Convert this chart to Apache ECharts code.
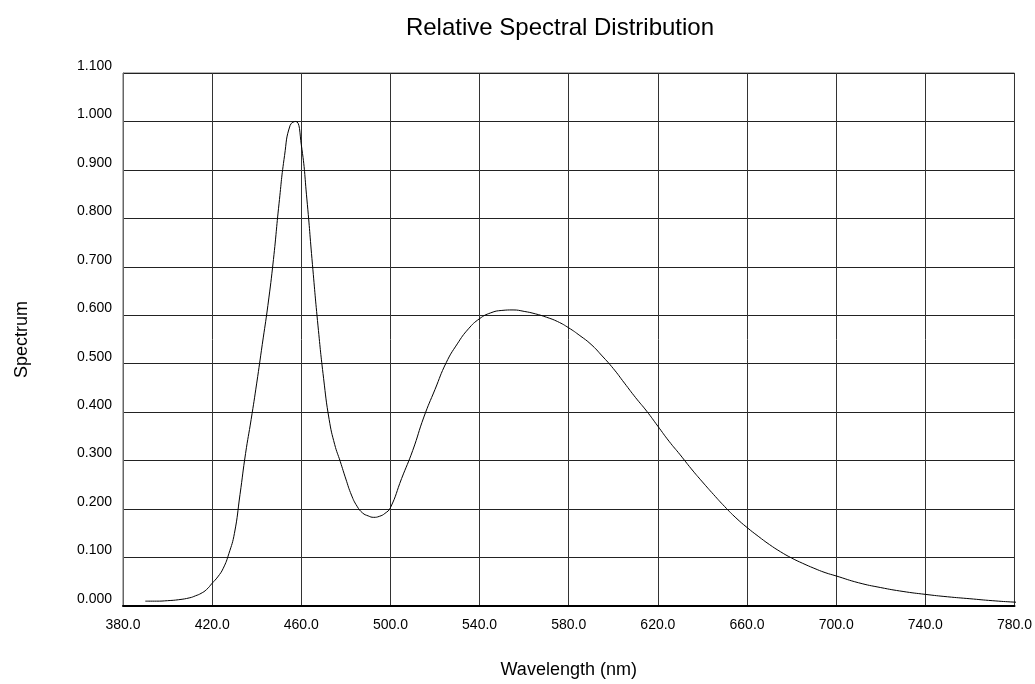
<!DOCTYPE html>
<html><head><meta charset="utf-8">
<script src="https://cdn.jsdelivr.net/npm/echarts@6/dist/echarts.min.js"></script>
<style>html,body{margin:0;padding:0;background:#fff}#c{width:1035px;height:684px}</style>
</head><body><div id="c"></div>
<script>
var wavelengths = [390,395,400,405,410,412.5,415,417.5,420,422.5,425,427.5,430,432.5,435,437.5,440,442.5,445,447.5,450,452.5,455,457.5,460,462.5,465,467.5,470,472.5,475,477.5,480,482.5,485,487.5,490,492.5,495,497.5,500,505,510,515,520,525,530,535,540,545,550,555,560,565,570,575,580,585,590,595,600,605,610,615,620,625,630,635,640,645,650,655,660,665,670,675,680,685,690,695,700,710,720,730,740,750,760,770,780,790];
var spectrum =    [0.010,0.010,0.011,0.013,0.017,0.021,0.026,0.034,0.047,0.060,0.078,0.108,0.150,0.230,0.315,0.385,0.460,0.540,0.620,0.715,0.830,0.930,0.992,1.000,0.952,0.840,0.705,0.578,0.470,0.385,0.333,0.298,0.262,0.229,0.206,0.192,0.186,0.183,0.185,0.191,0.203,0.263,0.321,0.390,0.447,0.502,0.541,0.572,0.593,0.605,0.610,0.611,0.608,0.603,0.596,0.587,0.574,0.558,0.540,0.516,0.490,0.460,0.430,0.402,0.371,0.340,0.312,0.283,0.256,0.230,0.205,0.182,0.162,0.144,0.127,0.112,0.099,0.088,0.078,0.069,0.062,0.048,0.038,0.030,0.024,0.019,0.015,0.011,0.008,0.006];
var titleText = 'Relative Spectral Distribution';
var xName = 'Wavelength (nm)';
var yName = 'Spectrum';

var pts = wavelengths.map(function(w,i){return [w, spectrum[i]];});
var chart = echarts.init(document.getElementById('c'));
var font = 'Liberation Sans, Arial, sans-serif';
chart.setOption({
  animation:false,
  title:{text:titleText,left:555,top:11,textAlign:'center',textStyle:{fontFamily:font,fontSize:24,fontWeight:'normal',color:'#000'}},
  grid:{left:123,right:17,top:73,bottom:75,show:true,borderColor:'#666',borderWidth:1},
  xAxis:{type:'value',min:380,max:780,interval:40,
    name:xName,nameLocation:'middle',nameGap:55,nameTextStyle:{fontFamily:font,fontSize:18,color:'#000'},
    axisLine:{show:true,lineStyle:{color:'#000',width:2}},axisTick:{show:false},
    axisLabel:{fontFamily:font,fontSize:14,color:'#000',margin:12,formatter:function(v){return v.toFixed(1);}},
    splitLine:{show:true,lineStyle:{color:'#333',width:1}}},
  yAxis:{type:'value',min:0,max:1.1,interval:0.1,
    name:yName,nameLocation:'middle',nameGap:92,nameTextStyle:{fontFamily:font,fontSize:18,color:'#000'},
    axisLine:{show:true,lineStyle:{color:'#666',width:1}},axisTick:{show:false},
    axisLabel:{fontFamily:font,fontSize:14,color:'#000',margin:11,verticalAlign:'bottom',formatter:function(v){return v.toFixed(3);}},
    splitLine:{show:true,lineStyle:{color:'#222',width:1}}},
  series:[{type:'line',data:pts,smooth:0.5,showSymbol:false,symbol:'none',lineStyle:{color:'#000',width:1},clip:false}]
});
</script></body></html>
